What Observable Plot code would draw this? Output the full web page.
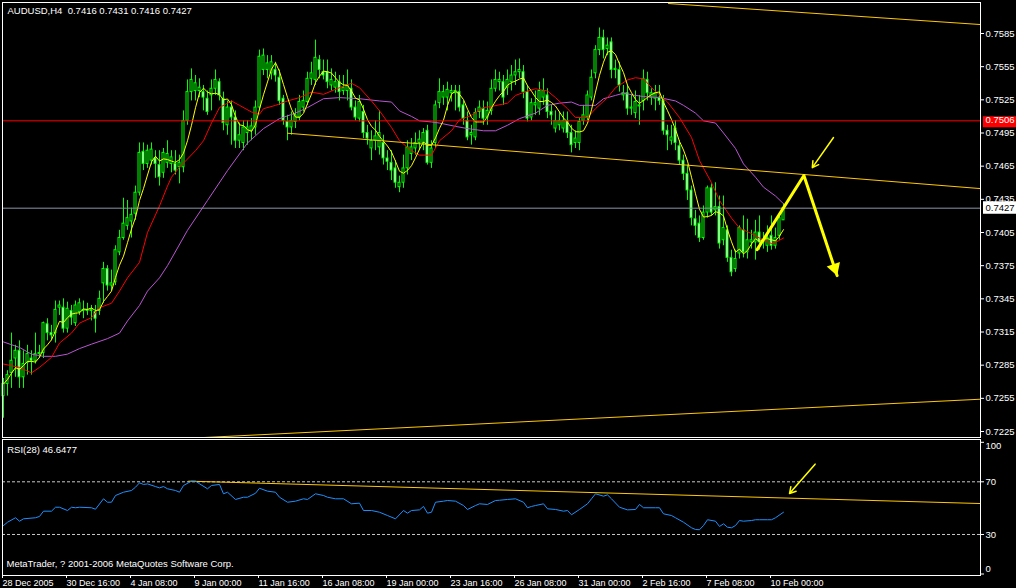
<!DOCTYPE html>
<html><head><meta charset="utf-8">
<script src="https://cdn.jsdelivr.net/npm/d3@7"></script>
<script src="https://cdn.jsdelivr.net/npm/@observablehq/plot@0.6"></script>
<style>
html,body{margin:0;padding:0;background:#000;}
#chart{position:relative;width:1016px;height:588px;background:#000;overflow:hidden}
#chart svg{display:block}
</style></head><body><div id="chart"></div>
<script>
// ---- Candles (AUDUSD H4), bar index 0 = 28 Dec 2005 00:00 ----
const opens=[.7257,.7268,.7278,.7291,.7298,.7274,.7287,.7291,.7289,.7295,.7296,.7322,.7314,.7314,.7337,.7337,.7318,.7334,.7323,.7333,.7334,.7335,.7334,.7333,.7334,.7359,.7372,.7357,.7360,.7387,.7400,.7411,.7415,.7422,.7441,.7478,.7467,.7470,.7472,.7466,.7459,.7468,.7467,.7467,.7464,.7464,.7506,.7532,.7533,.7533,.7532,.7526,.7529,.7535,.7541,.7526,.7502,.7518,.7509,.7488,.7486,.7495,.7497,.7500,.7518,.7552,.7552,.7549,.7552,.7545,.7526,.7505,.7500,.7505,.7509,.7518,.7523,.7544,.7543,.7561,.7550,.7550,.7538,.7536,.7541,.7533,.7533,.7535,.7518,.7508,.7514,.7495,.7481,.7488,.7482,.7486,.7472,.7468,.7463,.7446,.7450,.7463,.7476,.7481,.7486,.7486,.7497,.7468,.7486,.7522,.7527,.7527,.7531,.7531,.7532,.7520,.7506,.7493,.7491,.7514,.7517,.7509,.7515,.7535,.7541,.7541,.7536,.7541,.7547,.7550,.7550,.7532,.7509,.7520,.7517,.7527,.7529,.7514,.7499,.7502,.7499,.7506,.7495,.7486,.7486,.7506,.7509,.7527,.7549,.7570,.7581,.7571,.7577,.7552,.7552,.7529,.7531,.7517,.7513,.7519,.7524,.7543,.7527,.7526,.7527,.7524,.7497,.7488,.7499,.7483,.7470,.7458,.7443,.7417,.7413,.7400,.7423,.7445,.7425,.7428,.7398,.7407,.7382,.7372,.7386,.7407,.7387,.7396,.7396,.7405,.7396,.7393,.7402,.7393,.7402,.7416];
const highs=[.7273,.7280,.7314,.7303,.7307,.7298,.7303,.7298,.7314,.7303,.7324,.7327,.7321,.7343,.7343,.7345,.7342,.7339,.7343,.7345,.7343,.7341,.7339,.7339,.7352,.7378,.7375,.7371,.7393,.7407,.7436,.7434,.7427,.7447,.7486,.7486,.7484,.7486,.7479,.7479,.7481,.7488,.7479,.7479,.7475,.7515,.7543,.7553,.7547,.7544,.7538,.7533,.7543,.7552,.7544,.7532,.7524,.7524,.7515,.7504,.7506,.7506,.7508,.7524,.7570,.7571,.7565,.7565,.7559,.7552,.7529,.7511,.7514,.7517,.7529,.7533,.7550,.7559,.7579,.7565,.7561,.7561,.7553,.7550,.7547,.7547,.7552,.7543,.7524,.7529,.7520,.7502,.7497,.7506,.7515,.7493,.7479,.7479,.7470,.7456,.7475,.7488,.7490,.7495,.7497,.7499,.7502,.7488,.7524,.7544,.7538,.7541,.7538,.7538,.7538,.7524,.7514,.7502,.7517,.7524,.7524,.7523,.7543,.7552,.7550,.7547,.7552,.7556,.7561,.7562,.7556,.7538,.7526,.7533,.7541,.7544,.7535,.7520,.7515,.7514,.7514,.7514,.7502,.7497,.7508,.7520,.7533,.7552,.7574,.7590,.7588,.7581,.7581,.7561,.7559,.7538,.7538,.7529,.7533,.7529,.7552,.7550,.7535,.7538,.7538,.7529,.7502,.7502,.7506,.7488,.7475,.7466,.7447,.7425,.7420,.7429,.7447,.7449,.7450,.7438,.7438,.7411,.7389,.7389,.7411,.7420,.7417,.7407,.7416,.7420,.7405,.7411,.7420,.7409,.7422,.7431];
const lows=[.7237,.7257,.7264,.7274,.7264,.7264,.7276,.7276,.7286,.7291,.7291,.7307,.7307,.7305,.7330,.7314,.7314,.7321,.7320,.7330,.7327,.7330,.7325,.7314,.7330,.7341,.7352,.7352,.7357,.7384,.7398,.7407,.7400,.7416,.7438,.7461,.7463,.7466,.7454,.7447,.7454,.7463,.7459,.7457,.7449,.7459,.7502,.7524,.7524,.7527,.7515,.7511,.7515,.7529,.7524,.7497,.7493,.7484,.7481,.7481,.7479,.7484,.7488,.7493,.7515,.7547,.7544,.7543,.7541,.7520,.7502,.7488,.7493,.7499,.7506,.7514,.7520,.7538,.7538,.7544,.7543,.7535,.7533,.7531,.7524,.7529,.7524,.7515,.7506,.7505,.7490,.7484,.7470,.7479,.7475,.7466,.7461,.7452,.7445,.7441,.7445,.7457,.7470,.7475,.7479,.7479,.7466,.7463,.7481,.7517,.7520,.7515,.7523,.7515,.7514,.7502,.7488,.7484,.7488,.7508,.7502,.7502,.7511,.7532,.7533,.7520,.7529,.7533,.7538,.7544,.7526,.7505,.7506,.7511,.7511,.7520,.7508,.7502,.7495,.7497,.7495,.7490,.7477,.7481,.7479,.7502,.7506,.7524,.7544,.7565,.7562,.7565,.7544,.7544,.7532,.7524,.7511,.7511,.7508,.7502,.7515,.7524,.7520,.7515,.7520,.7493,.7479,.7484,.7479,.7466,.7452,.7434,.7411,.7402,.7396,.7398,.7418,.7420,.7420,.7390,.7393,.7378,.7365,.7369,.7381,.7382,.7381,.7390,.7380,.7389,.7390,.7387,.7389,.7390,.7398,.7416];
const closes=[.7268,.7276,.7289,.7298,.7274,.7286,.7295,.7289,.7295,.7296,.7323,.7314,.7312,.7335,.7339,.7318,.7336,.7328,.7339,.7341,.7335,.7334,.7335,.7327,.7345,.7372,.7357,.7359,.7389,.7400,.7413,.7418,.7421,.7441,.7477,.7467,.7479,.7480,.7467,.7455,.7477,.7476,.7473,.7461,.7468,.7506,.7532,.7543,.7540,.7536,.7527,.7514,.7535,.7543,.7529,.7504,.7518,.7509,.7488,.7493,.7500,.7500,.7501,.7518,.7564,.7565,.7558,.7559,.7547,.7524,.7506,.7500,.7506,.7511,.7523,.7524,.7544,.7549,.7563,.7552,.7547,.7541,.7543,.7541,.7532,.7536,.7538,.7518,.7509,.7523,.7495,.7490,.7488,.7492,.7495,.7472,.7469,.7461,.7450,.7450,.7463,.7482,.7482,.7486,.7489,.7495,.7468,.7481,.7520,.7532,.7532,.7534,.7533,.7533,.7518,.7508,.7491,.7495,.7513,.7518,.7508,.7515,.7535,.7543,.7543,.7527,.7543,.7547,.7550,.7552,.7532,.7508,.7522,.7522,.7533,.7533,.7514,.7511,.7506,.7506,.7506,.7495,.7484,.7490,.7505,.7511,.7529,.7545,.7570,.7581,.7570,.7574,.7552,.7553,.7538,.7531,.7517,.7518,.7523,.7520,.7544,.7531,.7531,.7531,.7524,.7497,.7493,.7491,.7486,.7470,.7458,.7443,.7418,.7411,.7400,.7423,.7445,.7423,.7428,.7395,.7409,.7382,.7369,.7381,.7409,.7387,.7398,.7398,.7405,.7396,.7398,.7400,.7393,.7400,.7418,.7427];

// ---- Moving averages (bar index, price) ----
const redBars=[0,4,7,9,12,14,17,19,22,24,27,29,31,34,36,39,41,42,44,48,50,52,54,57,59,62,64,65,68,71,74,77,80,84,87,89,92,94,97,99,102,104,107,109,112,114,117,120,122,126,128,131,133,136,138,141,143,146,148,151,153,156,158,160,162,166,169,172,174,177,179,182,184,187,189,192,193,195];
const redMA=[0.7286,0.7283,0.7278,0.7283,0.7292,0.7305,0.7314,0.7323,0.7328,0.7337,0.7341,0.7352,0.7364,0.7378,0.7405,0.7429,0.7447,0.7455,0.7464,0.7479,0.7488,0.7504,0.7518,0.7524,0.7520,0.7514,0.7512,0.7517,0.7520,0.7524,0.7527,0.7532,0.7530,0.7536,0.7540,0.7536,0.7524,0.7515,0.7500,0.7488,0.7479,0.7475,0.7475,0.7488,0.7497,0.7507,0.7511,0.7518,0.7519,0.7522,0.7529,0.7533,0.7535,0.7533,0.7527,0.7517,0.7509,0.7509,0.7517,0.7527,0.7536,0.7543,0.7545,0.7544,0.7536,0.7523,0.7509,0.7491,0.7470,0.7450,0.7434,0.7418,0.7409,0.7404,0.7400,0.7395,0.7396,0.7400];
const violetBars=[0,4,7,10,13,16,19,22,26,29,31,34,36,39,41,46,51,56,61,65,69,73,76,80,84,89,94,97,99,102,104,107,109,113,116,120,123,126,129,133,136,139,142,144,148,150,153,155,158,160,164,168,170,173,175,178,180,183,185,188,190,193,195];
const violetMA=[0.7306,0.7301,0.7295,0.7293,0.7293,0.7295,0.7300,0.7304,0.7309,0.7314,0.7325,0.7339,0.7352,0.7364,0.7375,0.7407,0.7434,0.7461,0.7486,0.7499,0.7508,0.7513,0.7518,0.7526,0.7527,0.7526,0.7524,0.7523,0.7515,0.7510,0.7506,0.7505,0.7504,0.7501,0.7499,0.7497,0.7497,0.7502,0.7508,0.7513,0.7520,0.7522,0.7523,0.7520,0.7520,0.7526,0.7529,0.7531,0.7529,0.7528,0.7527,0.7524,0.7520,0.7513,0.7506,0.7504,0.7495,0.7481,0.7467,0.7455,0.7446,0.7438,0.7431];

// ---- RSI(28) ----
const rsiBars=[0,1,3,4,5,8,9,10,12,13,14,16,17,18,19,22,23,25,26,27,28,30,32,33,34,35,36,38,39,40,41,43,44,45,47,48,49,51,52,54,55,56,58,60,61,63,64,66,68,69,71,73,75,76,78,80,81,83,85,87,89,90,92,94,96,98,100,101,102,104,105,106,107,108,110,111,113,115,116,118,119,121,123,124,126,128,130,131,132,133,135,136,138,140,141,142,144,146,147,148,150,151,152,154,156,158,159,160,163,164,165,167,168,170,172,173,174,175,176,178,179,180,181,182,183,184,185,187,188,189,191,192,193,195];
const rsiValues=[36.8,39.3,42.7,40.1,41.9,42.7,43.7,47.7,47.7,50.7,50.7,48.2,50.7,50.3,50.7,50.3,49.2,57.1,54.5,54.5,59.6,62.1,63.4,65.9,69.2,68.0,68.4,66.4,65.4,66.4,64.7,63.4,62.1,67.2,70.5,70.5,68.5,64.7,67.2,68.0,60.9,62.1,56.6,58.3,58.3,61.3,65.1,62.9,62.1,58.3,54.5,55.3,57.1,56.6,60.9,59.6,58.3,57.1,57.1,53.3,53.8,48.2,48.2,46.9,44.4,41.9,48.2,46.2,48.2,48.7,51.3,46.2,46.9,54.5,55.3,55.8,55.3,52.0,49.0,52.0,53.3,52.8,55.8,56.0,56.6,57.1,54.5,50.3,51.3,52.0,53.3,49.5,49.0,47.7,48.2,45.0,49.0,53.3,57.1,60.9,59.1,60.1,57.1,50.7,48.7,49.0,52.8,50.3,50.3,50.3,45.7,44.4,42.7,39.3,35.1,33.8,33.6,36.8,41.2,40.1,36.1,38.1,35.5,35.1,36.8,40.6,40.1,40.6,41.2,41.2,41.2,41.2,42.7,46.9];

// ---- Drawn objects (bar index, price / RSI) ----
const channelTopBars=[166.25,244.25], channelTopPrices=[0.76121,0.75931];
const channelMidBars=[71,244.25], channelMidPrices=[0.74948,0.74447];
const channelLowBars=[49.25,244.25], channelLowPrices=[0.72194,0.72542];
const forecastBars=[188.4,200.1,208.4], forecastPrices=[0.73895,0.74565,0.73660];
const pointerBars=[207.5,202.2], pointerPrices=[0.74909,0.74637];
const rsiTrendBars=[46.3,244.25], rsiTrendValues=[70.5,53.5];
const rsiPointerBars=[202.9,196.5], rsiPointerValues=[83.4,61.1];
const lineLevel=0.7506, bidLevel=0.7427;

// ---- Axes / labels ----
const priceTicks=[0.7585,0.7555,0.7525,0.7495,0.7465,0.7435,0.7405,0.7375,0.7345,0.7315,0.7285,0.7255,0.7225];
const rsiTicks=[30,70];
const rsiEnds=[100,0];
const dateTickBars=[0,16,32,48,64,80,96,112,128,144,160,176,192];
const dateLabels=["28 Dec 2005","30 Dec 16:00","4 Jan 08:00","9 Jan 00:00","11 Jan 16:00","16 Jan 08:00","19 Jan 00:00","23 Jan 16:00","26 Jan 08:00","31 Jan 00:00","2 Feb 16:00","7 Feb 08:00","10 Feb 00:00"];
const headerText="AUDUSD,H4\u00a0\u00a00.7416 0.7431 0.7416 0.7427";
const rsiText="RSI(28) 46.6477";
const copyrightText="MetaTrader, ? 2001-2006 MetaQuotes Software Corp.";

// ---- build ----
const bars=closes.map((c,i)=>({i,o:opens[i],h:highs[i],l:lows[i],c}));
const pairs=(xs,ys)=>xs.map((x,k)=>({x,y:ys[k]}));
const font="'Liberation Sans', Arial, sans-serif";
const GOLD="#ffc800", YEL="#ffff00", LIME="#00ff00";

const main=Plot.plot({
  width:1016,height:438,marginLeft:2,marginRight:36,marginTop:2,marginBottom:1,
  style:{background:"#000",color:"#fff",fontFamily:font,fontSize:"9.5px"},
  x:{domain:[0,195],range:[3,783],axis:null},
  y:{domain:[0.7225,0.7585],range:[431,33]},
  marks:[
    Plot.ruleX(bars,{x:"i",y1:"l",y2:"h",stroke:LIME,strokeWidth:1}),
    Plot.rect(bars,{x1:d=>d.i-0.25,x2:d=>d.i+0.25,y1:"o",y2:"c",fill:d=>d.c>=d.o?"#000000":"#ffffff",stroke:LIME,strokeWidth:1}),
    Plot.line(pairs(violetBars,violetMA),{x:"x",y:"y",stroke:"#ba55d3",strokeWidth:1}),
    Plot.line(pairs(redBars,redMA),{x:"x",y:"y",stroke:"#ff0000",strokeWidth:1}),
    Plot.lineY(bars,Plot.windowY({k:5,anchor:"end"},{x:"i",y:"c",stroke:YEL,strokeWidth:1})),
    Plot.ruleY([lineLevel],{stroke:"#ff0000",strokeWidth:1}),
    Plot.ruleY([bidLevel],{stroke:"#8a96a6",strokeWidth:1}),
    Plot.line(pairs(channelTopBars,channelTopPrices),{x:"x",y:"y",stroke:GOLD,strokeWidth:1}),
    Plot.line(pairs(channelMidBars,channelMidPrices),{x:"x",y:"y",stroke:GOLD,strokeWidth:1}),
    Plot.line(pairs(channelLowBars,channelLowPrices),{x:"x",y:"y",stroke:GOLD,strokeWidth:1}),
    Plot.line(pairs(forecastBars,forecastPrices),{x:"x",y:"y",stroke:YEL,strokeWidth:3}),
    Plot.dot(pairs(forecastBars,forecastPrices).slice(-1),{x:"x",y:"y",symbol:"triangle",r:5.2,fill:YEL,stroke:null,rotate:161.5,dx:-2.5,dy:-7.6}),
    Plot.arrow([0],{x1:()=>pointerBars[0],y1:()=>pointerPrices[0],x2:()=>pointerBars[1],y2:()=>pointerPrices[1],stroke:YEL,strokeWidth:1.5,headLength:7}),
    Plot.frame({stroke:"#fff",strokeWidth:1}),
    Plot.axisY(priceTicks,{anchor:"right",label:null,tickSize:3,tickPadding:2,tickFormat:d=>d.toFixed(4),stroke:"#fff",fill:"#fff"}),
    Plot.rect([lineLevel],{x1:245,x2:253.25,y1:d=>d-0.00063,y2:d=>d+0.00037,fill:"#ff0000"}),
    Plot.text([lineLevel],{x:245,y:d=>d+0.00012,text:d=>d.toFixed(4),textAnchor:"start",dx:2,fill:"#fff"}),
    Plot.rect([bidLevel],{x1:245,x2:253.25,y1:d=>d-0.00055,y2:d=>d+0.00058,fill:"#ffffff"}),
    Plot.text([bidLevel],{x:245,y:d=>d,text:d=>d.toFixed(4),textAnchor:"start",dx:2,fill:"#000"}),
    Plot.text([headerText],{frameAnchor:"top-left",text:d=>d,textAnchor:"start",lineAnchor:"middle",dx:5,dy:8.7,fill:"#fff"})
  ]
});

const rsi=Plot.plot({
  width:1016,height:150,marginLeft:2,marginRight:36,marginTop:1,marginBottom:13,
  style:{background:"#000",color:"#fff",fontFamily:font,fontSize:"9.5px"},
  x:{domain:[0,195],range:[3,783],label:null},
  y:{domain:[0,100],range:[135.5,3.8],label:null},
  marks:[
    Plot.ruleY(rsiTicks,{stroke:"#c8c8c8",strokeDasharray:"3,2",strokeWidth:1}),
    Plot.line(pairs(rsiTrendBars,rsiTrendValues),{x:"x",y:"y",stroke:GOLD,strokeWidth:1}),
    Plot.line(pairs(rsiBars,rsiValues),{x:"x",y:"y",stroke:"#1e90ff",strokeWidth:1}),
    Plot.arrow([0],{x1:()=>rsiPointerBars[0],y1:()=>rsiPointerValues[0],x2:()=>rsiPointerBars[1],y2:()=>rsiPointerValues[1],stroke:YEL,strokeWidth:1.5,headLength:7}),
    Plot.frame({stroke:"#fff",strokeWidth:1}),
    Plot.axisY([0,30,70,100],{anchor:"right",label:null,tickSize:3,tickPadding:2,tickFormat:d=>rsiTicks.includes(d)?String(d):"",stroke:"#fff",fill:"#fff"}),
    Plot.text([rsiEnds[0]],{y:d=>d,frameAnchor:"right",text:d=>String(d),textAnchor:"start",dx:5,dy:4,fill:"#fff"}),
    Plot.text([rsiEnds[1]],{y:d=>d,frameAnchor:"right",text:d=>String(d),textAnchor:"start",dx:5,dy:-5.5,fill:"#fff"}),
    Plot.axisX(dateTickBars,{anchor:"bottom",label:null,tickSize:3,tickPadding:1,fontSize:9,tickFormat:d=>dateLabels[dateTickBars.indexOf(d)],textAnchor:"start",dx:-1,stroke:"#fff",fill:"#fff"}),
    Plot.text([rsiText],{frameAnchor:"top-left",text:d=>d,textAnchor:"start",lineAnchor:"middle",dx:4.7,dy:10.3,fill:"#fff"}),
    Plot.text([copyrightText],{frameAnchor:"bottom-left",text:d=>d,textAnchor:"start",lineAnchor:"middle",dx:4,dy:-11.7,fill:"#fff"})
  ]
});

const host=document.getElementById("chart");
host.appendChild(main);
host.appendChild(rsi);
</script></body></html>
